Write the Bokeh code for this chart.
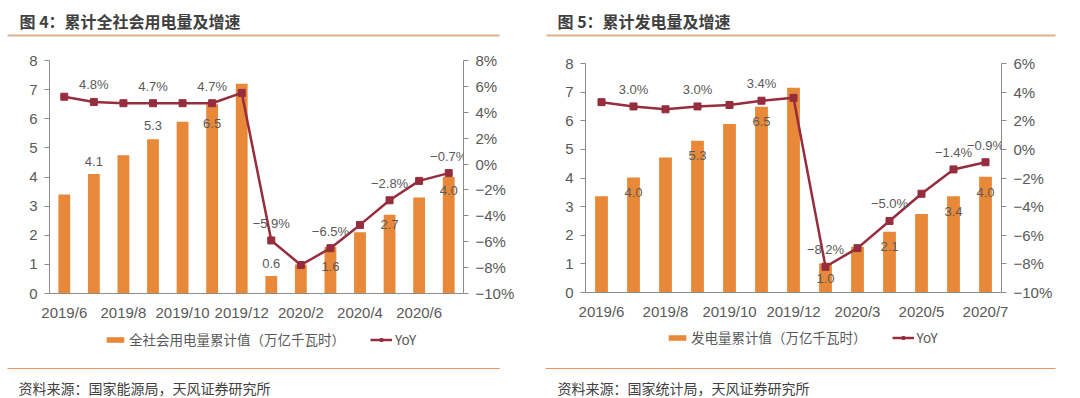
from bokeh.plotting import figure
from bokeh.models import (Range1d, LinearAxis, FixedTicker, ColumnDataSource,
                          LabelSet, Legend, LegendItem)
from bokeh.layouts import row, column
from bokeh.core.properties import value
from bokeh.embed import file_html
from bokeh.resources import INLINE

# ---------------- data ----------------
left_title = "图 4：累计全社会用电量及增速"
left_categories = ["2019/6", "2019/7", "2019/8", "2019/9", "2019/10", "2019/11", "2019/12",
                   "2020/1", "2020/2", "2020/3", "2020/4", "2020/5", "2020/6", "2020/7"]
left_power = [3.4, 4.1, 4.75, 5.3, 5.9, 6.5, 7.2, 0.6, 1.0, 1.6, 2.1, 2.7, 3.3, 4.0]
left_yoy = [5.2, 4.8, 4.7, 4.7, 4.7, 4.7, 5.5, -5.9, -7.8, -6.5, -4.7, -2.8, -1.3, -0.7]
left_labelled = [1, 3, 5, 7, 9, 11, 13]
left_bar_name = "全社会用电量累计值（万亿千瓦时）"
left_source = "资料来源：国家能源局，天风证券研究所"

right_title = "图 5：累计发电量及增速"
right_categories = ["2019/6", "2019/7", "2019/8", "2019/9", "2019/10", "2019/11", "2019/12",
                    "2020/2", "2020/3", "2020/4", "2020/5", "2020/6", "2020/7"]
right_power = [3.36, 4.02, 4.72, 5.3, 5.89, 6.49, 7.15, 1.01, 1.6, 2.12, 2.74, 3.36, 4.04]
right_yoy = [3.3, 3.0, 2.8, 3.0, 3.1, 3.4, 3.6, -8.2, -6.9, -5.0, -3.1, -1.4, -0.9]
right_labelled = [1, 3, 5, 7, 9, 11, 12]
right_bar_name = "发电量累计值（万亿千瓦时）"
right_source = "资料来源：国家统计局，天风证券研究所"

line_name = "YoY"

# ---------------- style ----------------
ORANGE = "#E8893A"
RED = "#962D3E"
AXIS = "#8C8C8C"
TXT = "#595959"
DARK = "#404040"
CJK = "Noto Sans CJK SC"
LAT = "Liberation Sans"
MINUS = "\u2212"

left_bar_dy = [13, 14, -19, 13, -20, -10, -13]
right_bar_dy = [-15, -15, -15, -15, -15, -15, -16]

HEAD_H, CHART_H, FOOT_H = 48, 278, 72


def blank(width, height):
    p = figure(width=width, height=height, x_range=Range1d(0, width), y_range=Range1d(0, height),
               x_axis_location=None, y_axis_location=None, toolbar_location=None,
               min_border=0, outline_line_color=None, output_backend="svg", frame_align=False)
    p.grid.visible = False
    return p


def header(width, text, tx, r0, r1):
    p = blank(width, HEAD_H)
    p.text(x=[tx], y=[28], text=[text], text_font=value(CJK), text_font_style="bold",
           text_font_size="16px", text_color=DARK, text_baseline="middle", text_align="left")
    p.segment(x0=[r0], y0=[13], x1=[r1], y1=[13], line_color="#DEB28A", line_width=2)
    return p


def footer(width, text, tx, r0, r1, bar_name, legend_loc):
    p = blank(width, FOOT_H)
    # legend keys: same styles as the chart's series, kept out of the visible range
    off = -1000
    kb = p.vbar(x=[off], top=[off + 1], bottom=[off], width=1, fill_color=ORANGE, line_color=None)
    kl = p.line(x=[off, off + 1], y=[off, off], line_color=RED, line_width=2.5)
    ks = p.scatter(x=[off], y=[off], marker="square", size=7, fill_color=RED, line_color=RED)
    legend = Legend(items=[LegendItem(label=bar_name, renderers=[kb]),
                           LegendItem(label=line_name, renderers=[kl, ks])],
                    orientation="horizontal", location=legend_loc,
                    border_line_color=None, background_fill_alpha=0,
                    label_text_font=CJK, label_text_font_size="13.5px", label_text_color=TXT,
                    glyph_width=22, glyph_height=7, label_standoff=3, spacing=25,
                    label_height=16, padding=0, margin=0)
    p.add_layout(legend, "center")
    p.segment(x0=[r0], y0=[30], x1=[r1], y1=[30], line_color="#E8965C", line_width=1.2)
    p.text(x=[tx], y=[11], text=[text], text_font=value(CJK), text_font_size="14px",
           text_color=DARK, text_baseline="middle", text_align="left")
    return p


def pct(v):
    return f"{v:.1f}%".replace("-", MINUS)


def chart(categories, power, yoy, labelled, bar_dy, pct_lo, pct_hi, width, borders):
    n = len(categories)
    idx = list(range(n))
    bl, br, bt, bb = borders
    p = figure(width=width, height=CHART_H, x_range=Range1d(-0.5, n - 0.5), y_range=Range1d(0, 8),
               toolbar_location=None, output_backend="svg", outline_line_color=None,
               min_border_left=bl, min_border_right=br, min_border_top=bt, min_border_bottom=bb,
               frame_align=False)
    p.grid.visible = False
    p.extra_y_ranges = {"pct": Range1d(pct_lo, pct_hi)}
    src = ColumnDataSource(dict(x=idx, power=power, yoy=yoy))
    p.vbar(x="x", top="power", width=0.4, source=src, fill_color=ORANGE, line_color=None)
    p.line("x", "yoy", source=src, y_range_name="pct", line_color=RED, line_width=2.5)
    p.scatter("x", "yoy", source=src, y_range_name="pct", marker="square", size=7,
              fill_color=RED, line_color=RED)

    lab = ColumnDataSource(dict(
        x=[idx[i] for i in labelled],
        power=[power[i] for i in labelled],
        ptxt=[f"{power[i]:.1f}" for i in labelled],
        yoy=[yoy[i] for i in labelled],
        ytxt=[pct(yoy[i]) for i in labelled],
        dy=bar_dy,
    ))
    p.add_layout(LabelSet(x="x", y="power", text="ptxt", y_offset="dy", source=lab,
                          text_font=value(LAT), text_font_size="13px", text_color=TXT,
                          text_align="center", text_baseline="middle"))
    p.add_layout(LabelSet(x="x", y="yoy", text="ytxt", y_offset=17, source=lab, y_range_name="pct",
                          text_font=value(LAT), text_font_size="13px", text_color=TXT,
                          text_align="center", text_baseline="middle"))

    xa = p.xaxis[0]
    xa.ticker = FixedTicker(ticks=idx[::2])
    xa.major_label_overrides = {i: categories[i] for i in idx[::2]}
    xa.major_tick_out = 0
    xa.major_tick_in = 0
    xa.minor_tick_out = 0
    xa.minor_tick_in = 0
    xa.major_label_standoff = 10

    ya = p.yaxis[0]
    ya.ticker = FixedTicker(ticks=list(range(0, 9)))
    ya.major_tick_out = 5
    ya.major_tick_in = 0
    ya.minor_tick_out = 0
    ya.minor_tick_in = 0
    ya.major_label_standoff = 7

    pticks = list(range(pct_lo, pct_hi + 1, 2))
    ra = LinearAxis(y_range_name="pct", ticker=FixedTicker(ticks=pticks),
                    major_label_overrides={v: f"{v}%".replace("-", MINUS) for v in pticks})
    ra.major_tick_out = 5
    ra.major_tick_in = 0
    ra.minor_tick_out = 0
    ra.minor_tick_in = 0
    ra.major_label_standoff = 7
    p.add_layout(ra, "right")

    for ax in (xa, ya, ra):
        ax.axis_line_color = AXIS
        ax.major_tick_line_color = AXIS
        ax.major_label_text_font = LAT
        ax.major_label_text_font_size = "15px"
        ax.major_label_text_color = TXT
    return p


LW, RW = 540, 540

left = column(
    header(LW, left_title, 19, 7, 499),
    chart(left_categories, left_power, left_yoy, left_labelled, left_bar_dy, -10, 8, LW,
          (49, 77, 12, 33)),
    footer(LW, left_source, 18, 7, 499, left_bar_name, (104, 49)),
)
right = column(
    header(RW, right_title, 17, 6, 515),
    chart(right_categories, right_power, right_yoy, right_labelled, right_bar_dy, -10, 6, RW,
          (45, 79, 15, 34)),
    footer(RW, right_source, 17, 5, 515, right_bar_name, (126, 51)),
)

page = row(left, right)
open("out.html", "w").write(file_html(page, INLINE))
